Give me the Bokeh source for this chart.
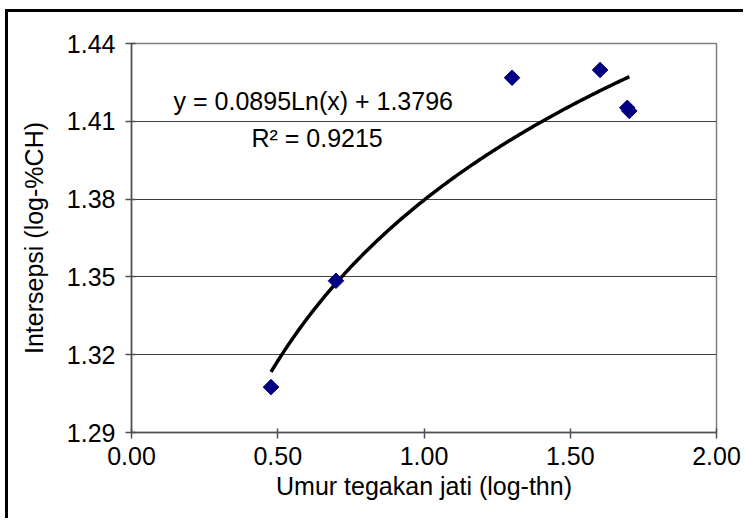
import numpy as np
from bokeh.plotting import figure
from bokeh.models import FixedTicker, PrintfTickFormatter, Range1d, Label
from bokeh.embed import file_html
from bokeh.resources import INLINE

# Data (log age, log interception)
x_vals = [0.477, 0.699, 1.301, 1.602, 1.695, 1.702]
y_vals = [1.3075, 1.3485, 1.4268, 1.4298, 1.4152, 1.4140]

# Logarithmic trendline coefficients (as printed on chart)
coef_a = 0.0895
coef_b = 1.3796
eq_text = "y = 0.0895Ln(x) + 1.3796"
r2_text = "R\u00b2 = 0.9215"

x_ticks = [0.0, 0.5, 1.0, 1.5, 2.0]
y_ticks = [1.29, 1.32, 1.35, 1.38, 1.41, 1.44]

FONT = "Liberation Sans"

p = figure(width=738, height=509, output_backend="svg", toolbar_location=None,
           x_range=Range1d(0, 2), y_range=Range1d(1.29, 1.44),
           min_border_left=123, min_border_right=30, min_border_top=31, min_border_bottom=89)
p.margin = (9, 0, 0, 5)
p.styles = {"border-top": "3px solid black", "border-left": "3px solid black"}

p.background_fill_color = "white"
p.border_fill_color = "white"
p.outline_line_color = "#808080"
p.outline_line_width = 1.5

p.xgrid.visible = False
p.ygrid.ticker = FixedTicker(ticks=y_ticks)
p.ygrid.grid_line_color = "#404040"
p.ygrid.grid_line_width = 1

for ax in (p.xaxis[0], p.yaxis[0]):
    ax.major_label_text_font = FONT
    ax.major_label_text_font_size = "25px"
    ax.major_label_text_color = "black"
    ax.axis_label_text_font = FONT
    ax.axis_label_text_font_size = "25px"
    ax.axis_label_text_font_style = "normal"
    ax.axis_label_text_color = "black"
    ax.axis_line_color = "#505050"
    ax.axis_line_width = 1.5
    ax.major_tick_line_color = "#505050"
    ax.major_tick_line_width = 1.5
    ax.major_tick_in = 4
    ax.major_tick_out = 6
    ax.minor_tick_line_color = None
    ax.formatter = PrintfTickFormatter(format="%.2f")

p.xaxis.ticker = FixedTicker(ticks=x_ticks)
p.yaxis.ticker = FixedTicker(ticks=y_ticks)
p.xaxis.axis_label = "Umur tegakan jati (log-thn)"
p.yaxis.axis_label = "Intersepsi (log-%CH)"
p.xaxis.major_label_standoff = 8
p.yaxis.major_label_standoff = 10
p.xaxis.axis_label_standoff = 4
p.yaxis.axis_label_standoff = 16

# trendline
tx = np.linspace(min(x_vals), max(x_vals), 200)
ty = coef_a * np.log(tx) + coef_b
p.line(tx, ty, line_color="black", line_width=3.5)

p.scatter(x_vals, y_vals, marker="square", angle=np.pi / 4, size=11,
          fill_color="#000080", line_color="#000080")

p.add_layout(Label(x=0.144, y=1.418, text=eq_text, text_font=FONT, text_font_size="25px",
                   text_color="black", text_baseline="middle", text_align="left"))
p.add_layout(Label(x=0.41, y=1.4035, text=r2_text, text_font=FONT, text_font_size="25px",
                   text_color="black", text_baseline="middle", text_align="left"))

open("out.html", "w").write(file_html(p, INLINE))
